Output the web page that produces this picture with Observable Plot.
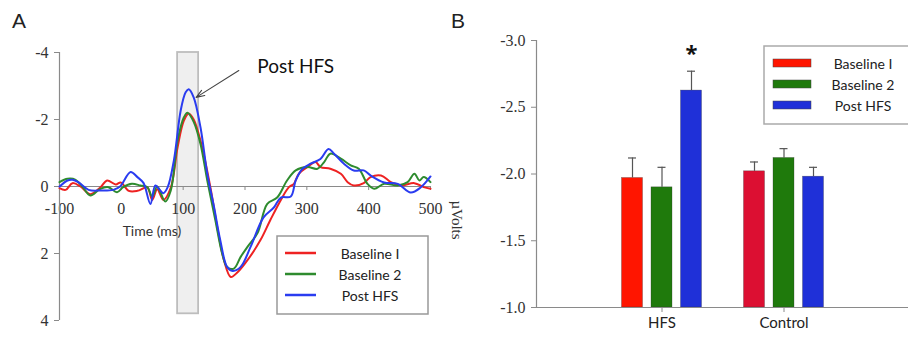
<!DOCTYPE html>
<html>
<head>
<meta charset="utf-8">
<script src="https://cdn.jsdelivr.net/npm/d3@7"></script>
<script src="https://cdn.jsdelivr.net/npm/@observablehq/plot@0.6"></script>
<style>
  body { margin: 0; background: white; }
  #root { position: relative; width: 908px; height: 337px; overflow: hidden; background: white; }
  #root > * { position: absolute; top: 0; }
</style>
</head>
<body>
<div id="root"></div>
<script>
// ---------- Panel A data (time in ms, amplitude in µV) ----------
const seriesNames = ["Baseline 1", "Baseline 2", "Post HFS"];
const lineColors = ["#ee2222", "#2e8b2e", "#2a3cf0"];

const baseline1 = [[-100,0.05],[-90,0.1],[-79,-0.1],[-66,0],[-50,0.23],[-34,0.03],[-23,-0.18],[-9,-0.06],[-1,-0.12],[12,0.13],[26,0.13],[42,0.03],[50,0.4],[58,0.08],[68,0.4],[80,0.03],[91,-1.17],[101,-1.96],[109,-2.18],[117,-2.0],[128,-1.37],[144,0.02],[155,1.2],[166,2.2],[177,2.7],[188,2.56],[204,2.2],[225,1.6],[241,1.0],[258,0.4],[271,0.02],[279,-0.08],[287,-0.38],[301,-0.58],[314,-0.73],[322,-0.58],[338,-0.53],[355,-0.38],[366,-0.13],[376,-0.03],[392,-0.1],[403,-0.28],[420,-0.33],[436,-0.13],[452,-0.03],[474,-0.1],[489,0.02],[500,0.07]];

const baseline2 = [[-100,-0.13],[-87,-0.23],[-74,-0.2],[-63,0],[-50,0.27],[-34,0.07],[-21,0.02],[-7,0.17],[3,0.02],[17,-0.08],[31,-0.03],[42,0.02],[50,0.3],[58,0],[71,0.45],[80,0.12],[91,-1.37],[101,-2.06],[107,-2.2],[117,-1.93],[128,-1.27],[139,-0.18],[152,1.0],[163,2.0],[171,2.4],[182,2.45],[193,2.1],[204,1.8],[220,1.4],[236,0.52],[252,0.33],[268,-0.18],[282,-0.48],[301,-0.58],[317,-0.53],[328,-0.73],[338,-0.98],[355,-0.83],[371,-0.63],[384,-0.53],[398,-0.08],[409,0.07],[425,-0.08],[447,-0.03],[463,-0.13],[474,-0.38],[482,-0.18],[489,-0.28],[500,-0.13]];

const postHFS = [[-100,0],[-87,-0.18],[-79,-0.2],[-69,-0.12],[-53,0.1],[-34,0.12],[-13,0.1],[-2,0],[15,-0.43],[26,-0.28],[36,-0.1],[47,0.52],[55,-0.03],[63,0.12],[68,0.2],[75,0.02],[85,-0.78],[96,-2.27],[104,-2.81],[109,-2.9],[117,-2.66],[128,-1.77],[139,-0.38],[150,0.62],[160,1.6],[171,2.4],[180,2.52],[193,2.4],[209,1.8],[230,0.92],[247,0.62],[258,0.33],[274,0.3],[282,-0.18],[293,-0.53],[306,-0.68],[322,-0.82],[335,-1.12],[344,-0.98],[360,-0.68],[376,-0.48],[392,-0.48],[403,-0.33],[425,-0.12],[447,-0.08],[468,0.18],[484,0.03],[500,-0.3]];

const xTicksA = [-100, 0, 100, 200, 300, 400, 500];
const yTicksA = [-4, -2, 0, 2, 4];
const highlightWindow = [{t1: 91, t2: 125, v1: -4, v2: 3.8}];
const annotationLabel = [{t: 282, v: -3.58, text: "Post HFS"}];
const annotationArrow = [{t1: 190, v1: -3.46, t2: 121, v2: -2.66}];

// ---------- Panel B data (mean amplitude, µV) ----------
const groups = ["HFS", "Control"];
const barSeries = ["Baseline 1", "Baseline 2", "Post HFS"];
const hfsMeans = [-1.97, -1.90, -2.625];
const hfsErrors = [0.15, 0.15, 0.145];
const controlMeans = [-2.02, -2.12, -1.98];
const controlErrors = [0.07, 0.07, 0.07];
const significant = [["HFS", "Post HFS"]];
const yTicksB = [-3.0, -2.5, -2.0, -1.5, -1.0];
const barBaseline = -1.0;

// ---------- build tables ----------
const waveRows = [baseline1, baseline2, postHFS].flatMap((arr, i) =>
  arr.map(([t, v]) => ({series: seriesNames[i], t, v})));

const barRows = [];
barSeries.forEach((s, i) => {
  barRows.push({group: "HFS", series: s, value: hfsMeans[i], err: hfsErrors[i]});
  barRows.push({group: "Control", series: s, value: controlMeans[i], err: controlErrors[i]});
});
barRows.forEach(d => d.sig = significant.some(([g, s]) => g === d.group && s === d.series));

const serif = "Liberation Serif";
const sans = "Lato";
const axisGray = "#8a8a8a";

// ---------- Panel A ----------
const chartA = Plot.plot({
  width: 460, height: 337,
  marginLeft: 59, marginRight: 30, marginTop: 52, marginBottom: 17,
  x: {domain: [-100, 500], axis: null},
  y: {domain: [-4, 4], reverse: true},
  color: {domain: seriesNames, range: lineColors},
  style: {background: "transparent", overflow: "visible"},
  marks: [
    Plot.rect(highlightWindow, {x1: "t1", x2: "t2", y1: "v1", y2: "v2", fill: "#efefef", stroke: "#bdbdbd", strokeWidth: 1.8}),
    Plot.ruleY([0], {stroke: axisGray, strokeWidth: 1.2}),
    Plot.ruleX(xTicksA, {x: d => d, y1: 0, y2: 0.12, stroke: axisGray}),
    Plot.text(xTicksA, {x: d => d, y: 0, dy: 22, text: d => String(d), fontFamily: serif, fontSize: 16, fill: "#333"}),
    Plot.ruleX([-100], {stroke: axisGray, strokeWidth: 1.2}),
    Plot.axisY(yTicksA, {tickSize: 5, tickPadding: 6, tickFormat: d => String(d), fontFamily: serif, fontSize: 16, stroke: axisGray, fill: "#333", label: null}),
    Plot.line(waveRows, {x: "t", y: "v", z: "series", stroke: "series", strokeWidth: 2, curve: "catmull-rom"}),
    Plot.arrow(annotationArrow, {x1: "t1", y1: "v1", x2: "t2", y2: "v2", stroke: "#444", strokeWidth: 1.1, headLength: 12, headAngle: 40}),
    Plot.text(annotationLabel, {x: "t", y: "v", text: "text", fontFamily: sans, fontSize: 19, fill: "#111"})
  ]
});
chartA.style.left = "0px";

// ---------- Panel B ----------
const barColor = d => (d.group === "Control" && d.series === "Baseline 1") ? "#dc0f32"
  : ({"Baseline 1": "#ff1500", "Baseline 2": "#1f7a0c", "Post HFS": "#1f30d8"})[d.series];
const offsets = {"Baseline 1": -29.5, "Baseline 2": 0, "Post HFS": 29.5};

const barMarks = barSeries.flatMap(s => {
  const rows = barRows.filter(d => d.series === s);
  const dx = offsets[s];
  return [
    Plot.ruleX(rows, {x: "group", y1: "value", y2: d => d.value - d.err, dx, stroke: "#555", strokeWidth: 1.2}),
    Plot.tickY(rows, {x: "group", y: d => d.value - d.err, dx, inset: 6.5, stroke: "#555", strokeWidth: 1.2}),
    Plot.barY(rows, {x: "group", y1: () => barBaseline, y2: "value", dx, fill: barColor, stroke: "#333", strokeWidth: 0.5, strokeOpacity: 0.6}),
    Plot.text(rows.filter(d => d.sig), {x: "group", y: d => d.value - d.err, dx, dy: -17, text: () => "*", fontSize: 22, fontWeight: "bold", fill: "#111"})
  ];
});

const chartB = Plot.plot({
  width: 468, height: 337,
  marginLeft: 96, marginRight: 0, marginTop: 40, marginBottom: 30,
  x: {domain: groups, paddingInner: 0.829, paddingOuter: 0.927},
  y: {domain: [-3, -1], reverse: true},
  style: {background: "transparent", overflow: "visible"},
  marks: [
    Plot.frame({anchor: "left", stroke: axisGray, strokeWidth: 1.2}),
    Plot.axisY(yTicksB, {tickSize: 5, tickPadding: 6, tickFormat: d => d.toFixed(1), fontFamily: serif, fontSize: 16, stroke: axisGray, fill: "#333", label: null}),
    Plot.axisX({tickSize: 5, tickPadding: 5, fontFamily: sans, fontSize: 15, stroke: axisGray, fill: "#222", label: null}),
    ...barMarks,
    Plot.ruleY([barBaseline], {stroke: axisGray, strokeWidth: 1.2})
  ]
});
chartB.style.left = "440px";

const root = document.getElementById("root");
root.appendChild(chartA);
root.appendChild(chartB);

// numeric tick labels are set in a serif face, as in the original figure
for (const chart of [chartA, chartB]) {
  chart.querySelectorAll("text").forEach(el => {
    if (/^[-−]?[\d.]+$/.test(el.textContent.trim())) {
      el.style.fontFamily = "'Liberation Serif', 'DejaVu Serif', serif";
    }
  });
}

// ---------- overlay: panel letters, axis titles, legends ----------
const ov = d3.create("svg").attr("width", 908).attr("height", 337)
  .style("left", "0px").style("pointer-events", "none");

ov.append("text").attr("x", 12).attr("y", 28).text("A")
  .attr("font-family", "Liberation Sans").attr("font-size", 21).attr("fill", "#222");
ov.append("text").attr("x", 451).attr("y", 28).text("B")
  .attr("font-family", "Liberation Sans").attr("font-size", 21).attr("fill", "#222");
ov.append("text").attr("x", 152).attr("y", 236).attr("text-anchor", "middle").text("Time (ms)")
  .attr("font-family", sans).attr("font-size", 14).attr("fill", "#333");
ov.append("text").attr("transform", "translate(457,220) rotate(90)").attr("text-anchor", "middle")
  .attr("dominant-baseline", "central").text("µVolts")
  .attr("font-family", serif).attr("font-size", 15).attr("fill", "#333");

// legend A
const legA = ov.append("g");
legA.append("rect").attr("x", 277).attr("y", 236).attr("width", 151).attr("height", 78)
  .attr("fill", "white").attr("stroke", "#999").attr("stroke-width", 1.5);
seriesNames.forEach((s, i) => {
  const y = 253 + i * 21;
  legA.append("line").attr("x1", 285).attr("x2", 316).attr("y1", y).attr("y2", y)
    .attr("stroke", lineColors[i]).attr("stroke-width", 2.5);
  legA.append("text").attr("x", 370).attr("y", y).attr("text-anchor", "middle")
    .attr("dominant-baseline", "central").text(s.replace(" 1", " I"))
    .attr("font-family", sans).attr("font-size", 14).attr("fill", "#222");
});

// legend B
const swatch = ["#ff1500", "#1f7a0c", "#1f30d8"];
const legB = ov.append("g");
legB.append("rect").attr("x", 764).attr("y", 46).attr("width", 160).attr("height", 78)
  .attr("fill", "white").attr("stroke", "#aaa").attr("stroke-width", 1.5);
barSeries.forEach((s, i) => {
  const y = 63 + i * 21;
  legB.append("rect").attr("x", 773).attr("y", y - 4).attr("width", 38).attr("height", 8)
    .attr("fill", swatch[i]).attr("stroke", "#444").attr("stroke-width", 0.5);
  legB.append("text").attr("x", 863).attr("y", y).attr("text-anchor", "middle")
    .attr("dominant-baseline", "central").text(s.replace(" 1", " I"))
    .attr("font-family", sans).attr("font-size", 14).attr("fill", "#222");
});
root.appendChild(ov.node());
</script>
</body>
</html>
